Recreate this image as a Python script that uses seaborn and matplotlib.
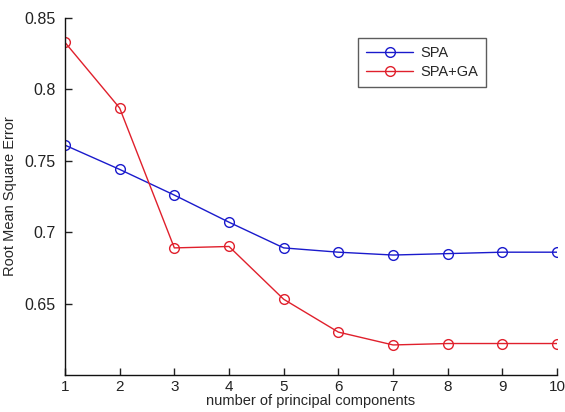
import matplotlib
matplotlib.use("Agg")
import matplotlib.pyplot as plt
import seaborn as sns
import pandas as pd
from matplotlib.lines import Line2D

components = [1, 2, 3, 4, 5, 6, 7, 8, 9, 10]
spa = [0.761, 0.744, 0.726, 0.707, 0.689, 0.686, 0.684, 0.685, 0.686, 0.686]
spa_ga = [0.833, 0.787, 0.689, 0.690, 0.653, 0.630, 0.621, 0.622, 0.622, 0.622]
series_names = ["SPA", "SPA+GA"]
yticks = [0.65, 0.7, 0.75, 0.8, 0.85]
ytick_labels = ["0.65", "0.7", "0.75", "0.8", "0.85"]

df = pd.DataFrame({
    "x": components * 2,
    "y": spa + spa_ga,
    "series": [series_names[0]] * len(spa) + [series_names[1]] * len(spa_ga),
})

sns.set_style("white")
plt.rcParams["font.family"] = ["Liberation Sans", "DejaVu Sans"]

blue = "#1a1acc"
red = "#e0202c"

fig = plt.figure(figsize=(5.65, 4.12), dpi=100)
ax = fig.add_axes([0.115, 0.090, 0.871, 0.866])

sns.lineplot(data=df, x="x", y="y", hue="series",
             palette={"SPA": blue, "SPA+GA": red},
             marker="o", markersize=7, markerfacecolor="none",
             markeredgewidth=1.0, linewidth=1.0, ax=ax, legend=False)
for line, c in zip(ax.get_lines(), [blue, red]):
    line.set_markeredgecolor(c)
    line.set_markerfacecolor("none")

ax.set_xlim(1, 10)
ax.set_ylim(0.6, 0.85)
ax.set_xticks(components)
ax.set_xticklabels([str(c) for c in components])
ax.set_yticks(yticks)
ax.set_yticklabels(ytick_labels)
ax.tick_params(bottom=True, left=True, direction="in", length=5, width=1,
               labelsize=11.5, colors="#222222")
ax.tick_params(axis="x", pad=4, labelsize=11)
ax.tick_params(axis="y", pad=7)
for s in ["top", "right"]:
    ax.spines[s].set_visible(False)
for s in ["left", "bottom"]:
    ax.spines[s].set_color("#111111")
    ax.spines[s].set_linewidth(1.0)

ax.set_xlabel("number of principal components", fontsize=10.5, labelpad=0)
ax.set_ylabel("Root Mean Square Error", fontsize=10.5, labelpad=5)

handles = [Line2D([], [], color=c, marker="o", markerfacecolor="none",
                  markeredgecolor=c, markersize=7, linewidth=1.0)
           for c in [blue, red]]
leg = ax.legend(handles, series_names, loc="upper left",
                bbox_to_anchor=(0.596, 0.945), fontsize=10.5, frameon=True,
                fancybox=False, edgecolor="#333333", handlelength=3.2,
                handletextpad=0.5, borderpad=0.55, labelspacing=0.35,
                borderaxespad=0)
leg.get_frame().set_linewidth(1.0)

fig.savefig("out.png", dpi=100)
